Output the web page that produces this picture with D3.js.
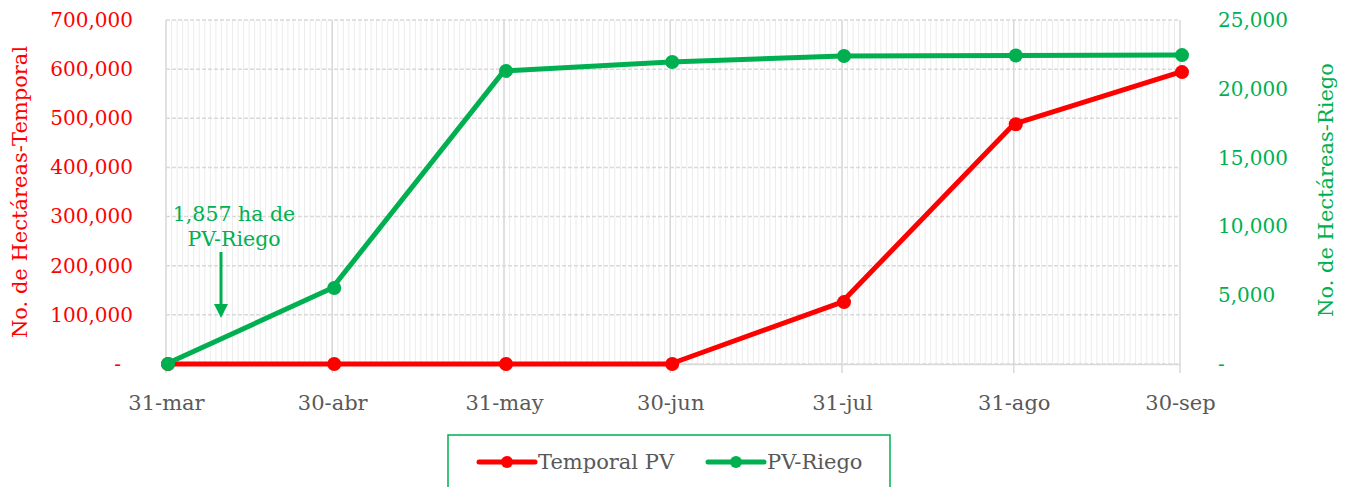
<!DOCTYPE html>
<html lang="es">
<head>
    <meta charset="UTF-8">
    <title>Index</title>
    <script src="https://d3js.org/d3.v7.min.js"></script>
    <style>
        body { margin: 0; background: #fff; }
        svg { display: block; font-family: 'DejaVu Serif', serif; }
    </style>
</head>
<body>
    <div id="chart"></div>
    <script>
        // data
        const dates = ["2021-03-31", "2021-04-30", "2021-05-31", "2021-06-30", "2021-07-31", "2021-08-31", "2021-09-30"];
        const xLabels = ["31-mar", "30-abr", "31-may", "30-jun", "31-jul", "31-ago", "30-sep"];
        const temporalPV = [0, 0, 0, 0, 126000, 488000, 594000];
        const pvRiego = [0, 5520, 21300, 21950, 22380, 22420, 22450];
        const leftTicks = [0, 100000, 200000, 300000, 400000, 500000, 600000, 700000];
        const rightTicks = [0, 5000, 10000, 15000, 20000, 25000];

        const width = 1349, height = 487;
        const plotL = 166, plotR = 1180, plotT = 20, plotB = 364;
        const red = "#ff0000", green = "#00b050", grey = "#595959";

        const parse = d3.timeParse("%Y-%m-%d");
        const xDates = dates.map(parse);

        const svg = d3.select("#chart").append("svg")
            .attr("width", width)
            .attr("height", height);

        const x = d3.scaleTime()
            .domain([xDates[0], xDates[xDates.length - 1]])
            .range([plotL, plotR]);
        const yL = d3.scaleLinear().domain([0, 700000]).range([plotB, plotT]);
        const yR = d3.scaleLinear().domain([0, 25000]).range([plotB, plotT]);

        // daily minor grid
        svg.append("g").selectAll("line")
            .data(d3.timeDay.range(xDates[0], xDates[xDates.length - 1]))
            .join("line")
            .attr("x1", d => x(d)).attr("x2", d => x(d))
            .attr("y1", plotT).attr("y2", plotB)
            .attr("stroke", "#ececec").attr("stroke-width", 1);

        // horizontal dashed grid
        svg.append("g").selectAll("line")
            .data(leftTicks)
            .join("line")
            .attr("x1", plotL).attr("x2", plotR)
            .attr("y1", d => yL(d)).attr("y2", d => yL(d))
            .attr("stroke", "#d9d9d9").attr("stroke-width", 1.5)
            .attr("stroke-dasharray", "4,2");

        // major month gridlines + ticks
        svg.append("g").selectAll("line")
            .data(xDates)
            .join("line")
            .attr("x1", d => x(d)).attr("x2", d => x(d))
            .attr("y1", plotT).attr("y2", plotB + 9)
            .attr("stroke", "#d9d9d9").attr("stroke-width", 1.5);

        // x axis
        const xAxis = svg.append("g")
            .attr("transform", `translate(0,${plotB})`)
            .call(d3.axisBottom(x).tickValues(xDates).tickSize(0).tickPadding(31)
                .tickFormat((d, i) => xLabels[i]));
        xAxis.select(".domain").attr("stroke", "#d9d9d9").attr("stroke-width", 1.5);
        xAxis.selectAll("text").attr("fill", grey).attr("font-size", 21)
            .attr("font-family", "'DejaVu Serif', serif");

        // left axis
        const fmt = d3.format(",");
        const yAxisL = svg.append("g")
            .attr("transform", `translate(133,0)`)
            .call(d3.axisLeft(yL).tickValues(leftTicks).tickSize(0).tickPadding(0)
                .tickFormat(d => d === 0 ? "-" : fmt(d)));
        yAxisL.select(".domain").remove();
        yAxisL.selectAll("text").attr("fill", red).attr("font-size", 20)
            .attr("font-family", "'DejaVu Serif', serif")
            .attr("dx", d => d === 0 ? -12 : 0);

        // right axis
        const yAxisR = svg.append("g")
            .attr("transform", `translate(1218,0)`)
            .call(d3.axisRight(yR).tickValues(rightTicks).tickSize(0).tickPadding(0)
                .tickFormat(d => d === 0 ? "-" : fmt(d)));
        yAxisR.select(".domain").remove();
        yAxisR.selectAll("text").attr("fill", green).attr("font-size", 20)
            .attr("font-family", "'DejaVu Serif', serif");

        // axis titles
        svg.append("text")
            .attr("transform", `translate(27,${(plotT + plotB) / 2}) rotate(-90)`)
            .attr("text-anchor", "middle")
            .attr("fill", red).attr("font-size", 21)
            .text("No. de Hectáreas-Temporal");
        svg.append("text")
            .attr("transform", `translate(1333,${(plotT + plotB) / 2 - 2}) rotate(-90)`)
            .attr("text-anchor", "middle")
            .attr("fill", green).attr("font-size", 21)
            .text("No. de Hectáreas-Riego");

        // series
        const series = [
            { name: "Temporal PV", values: temporalPV, y: yL, color: red },
            { name: "PV-Riego", values: pvRiego, y: yR, color: green }
        ];
        series.forEach(s => {
            const line = d3.line().x((d, i) => x(xDates[i])).y(d => s.y(d));
            svg.append("path")
                .datum(s.values)
                .attr("d", line)
                .attr("fill", "none")
                .attr("stroke", s.color)
                .attr("stroke-width", 5)
                .attr("stroke-linejoin", "round");
            svg.append("g").selectAll("circle")
                .data(s.values)
                .join("circle")
                .attr("cx", (d, i) => x(xDates[i]) + 2)
                .attr("cy", d => s.y(d))
                .attr("r", 7)
                .attr("fill", s.color);
        });

        // annotation
        const ann = svg.append("g").attr("fill", green).attr("font-size", 20.5);
        ann.append("text").attr("x", 234).attr("y", 221).attr("text-anchor", "middle").text("1,857 ha de");
        ann.append("text").attr("x", 234).attr("y", 246).attr("text-anchor", "middle").text("PV-Riego");
        ann.append("line")
            .attr("x1", 221).attr("x2", 221).attr("y1", 252).attr("y2", 306)
            .attr("stroke", green).attr("stroke-width", 3);
        ann.append("path")
            .attr("d", "M214,304 L228,304 L221,318 Z");

        // legend
        const lg = svg.append("g");
        lg.append("rect")
            .attr("x", 448).attr("y", 435).attr("width", 442).attr("height", 70)
            .attr("fill", "#fff").attr("stroke", green).attr("stroke-width", 1.5);
        series.forEach((s, i) => {
            const lx = [479, 708][i];
            lg.append("line")
                .attr("x1", lx).attr("x2", lx + 56).attr("y1", 462).attr("y2", 462)
                .attr("stroke", s.color).attr("stroke-width", 5).attr("stroke-linecap", "round");
            lg.append("circle").attr("cx", lx + 28).attr("cy", 462).attr("r", 6).attr("fill", s.color);
            lg.append("text")
                .attr("x", lx + 59).attr("y", 469)
                .attr("fill", grey).attr("font-size", 21)
                .text(s.name);
        });
    </script>
</body>
</html>
